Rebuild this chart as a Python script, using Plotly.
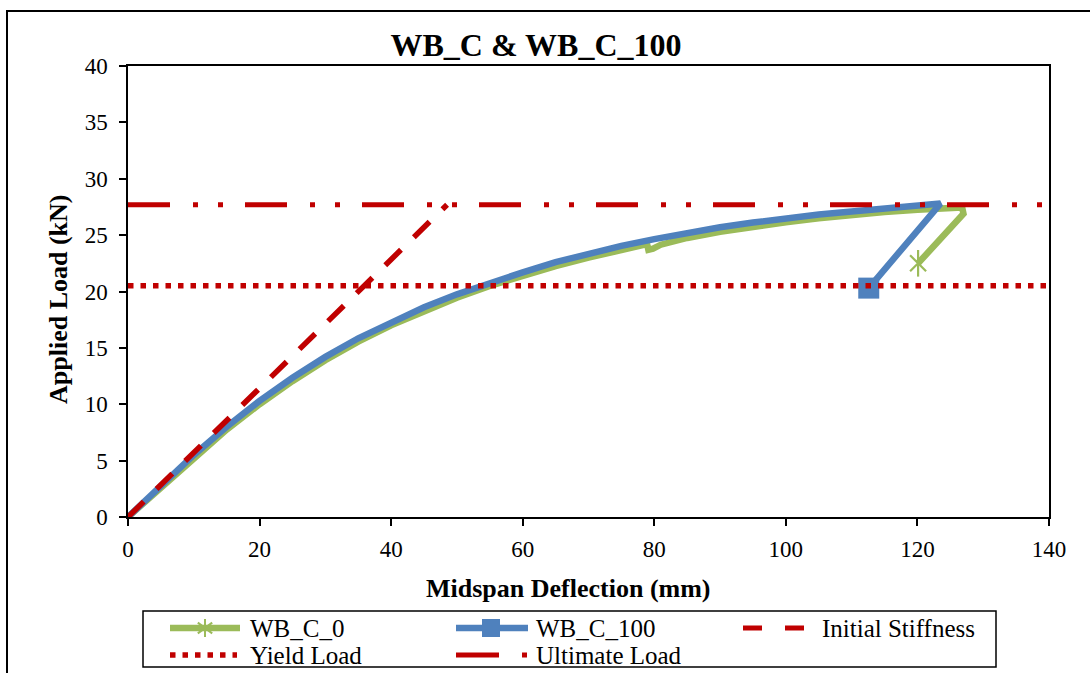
import plotly.graph_objects as go

# Load–deflection data (mm, kN)
wb_c_0_defl = [0, 5, 10, 15, 20, 25, 30, 35, 40, 45, 50, 55, 60, 65, 70, 75,
               78.9, 79.1, 79.8, 81, 83, 85, 90, 95, 100, 105, 110, 115, 120,
               126.8, 127.0, 120.1]
wb_c_0_load = [0, 2.6, 5.25, 7.75, 10.0, 12.05, 13.9, 15.55, 17.0, 18.3, 19.45,
               20.5, 21.4, 22.25, 23.0, 23.7, 24.2, 23.7, 23.8, 24.15, 24.45,
               24.75, 25.3, 25.75, 26.15, 26.5, 26.8, 27.05, 27.25, 27.45,
               26.9, 22.5]

wb_c_100_defl = [0, 5, 10, 15, 20, 25, 30, 35, 40, 45, 50, 55, 60, 65, 70, 75,
                 80, 85, 90, 95, 100, 105, 110, 115, 120, 123.5, 112.6]
wb_c_100_load = [0, 2.8, 5.5, 8.0, 10.3, 12.35, 14.2, 15.85, 17.3, 18.6, 19.75,
                 20.8, 21.7, 22.6, 23.35, 24.05, 24.65, 25.2, 25.7, 26.12,
                 26.5, 26.82, 27.1, 27.35, 27.58, 27.8, 20.3]

stiff_defl = [0, 48.5]
stiff_load = [0, 27.7]

limit_defl = [0, 140]
yield_load = [20.5, 20.5]
ultimate_load = [27.7, 27.7]

x_ticks = [0, 20, 40, 60, 80, 100, 120, 140]
y_ticks = [0, 5, 10, 15, 20, 25, 30, 35, 40]

series_names = ["WB_C_0", "WB_C_100", "Initial Stiffness", "Yield Load",
                "Ultimate Load"]

GREEN = "#9BBB59"
BLUE = "#4F81BD"
RED = "#C00000"
FONT = "Liberation Serif, Times New Roman, serif"

STIFF_DASH = "22px,18px"
YIELD_DASH = "5.5px,7px"
ULT_DASH = "42px,23px,5px,20px,5px,22px"

# Plot-area geometry in pixels (used to place the frame and legend)
W, H = 1090, 673
L, R, T, B = 128, 41, 66, 156
PW, PH = W - L - R, H - T - B


def px(x):
    return (x - L) / PW


def py(y):
    return (H - B - y) / PH


fig = go.Figure()

# Test curves
fig.add_trace(go.Scatter(x=wb_c_0_defl, y=wb_c_0_load, mode="lines",
                         line=dict(color=GREEN, width=6.5), hoverinfo="skip"))
fig.add_trace(go.Scatter(x=wb_c_100_defl, y=wb_c_100_load, mode="lines",
                         line=dict(color=BLUE, width=6.5), hoverinfo="skip"))

# End-point markers
for sym, size in (("x-thin-open", 16), ("line-ns-open", 19)):
    fig.add_trace(go.Scatter(x=wb_c_0_defl[-1:], y=wb_c_0_load[-1:],
                             mode="markers",
                             marker=dict(symbol=sym, size=size, color=GREEN,
                                         line=dict(color=GREEN, width=2.2))))
fig.add_trace(go.Scatter(x=wb_c_100_defl[-1:], y=wb_c_100_load[-1:],
                         mode="markers",
                         marker=dict(symbol="square", size=21, color=BLUE)))

# Reference lines
fig.add_trace(go.Scatter(x=stiff_defl, y=stiff_load, mode="lines",
                         line=dict(color=RED, width=5.5, dash=STIFF_DASH)))
fig.add_trace(go.Scatter(x=limit_defl, y=yield_load, mode="lines",
                         line=dict(color=RED, width=5.5, dash=YIELD_DASH)))
fig.add_trace(go.Scatter(x=limit_defl, y=ultimate_load, mode="lines",
                         line=dict(color=RED, width=5, dash=ULT_DASH)))

axis_common = dict(showgrid=False, zeroline=False, showline=True,
                   linecolor="black", linewidth=1.5, mirror=True,
                   ticks="outside", ticklen=7, tickwidth=1.5, tickcolor="black",
                   tickfont=dict(family=FONT, size=23, color="black"))

fig.update_xaxes(range=[0, 140], tickvals=x_ticks, ticklabelstandoff=4,
                 **axis_common)
fig.update_yaxes(range=[0, 40], tickvals=y_ticks, ticklabelstandoff=7,
                 **axis_common)

# Legend drawn as a framed box of line samples and labels
shapes = [
    # Outer chart frame
    dict(type="rect", xref="paper", yref="paper",
         x0=px(7), x1=px(1100), y0=py(690), y1=py(11),
         line=dict(color="black", width=2), fillcolor="rgba(0,0,0,0)",
         layer="below"),
    # Legend frame
    dict(type="rect", xref="paper", yref="paper",
         x0=px(143), x1=px(996), y0=py(667), y1=py(611),
         line=dict(color="black", width=1.5), fillcolor="white"),
]

row1, row2 = 628, 655
samples = [
    (170, 240, row1, GREEN, 6.5, "solid"),
    (456, 528, row1, BLUE, 6.5, "solid"),
    (743, 805, row1, RED, 5, "19px,23px"),
    (170, 237, row2, RED, 5.5, YIELD_DASH),
    (456, 528, row2, RED, 5, "43px,23px,5px,40px"),
]
for x0, x1, yy, col, wd, dash in samples:
    shapes.append(dict(type="line", xref="paper", yref="paper",
                       x0=px(x0), x1=px(x1), y0=py(yy), y1=py(yy),
                       line=dict(color=col, width=wd, dash=dash)))

# Legend marker: square for WB_C_100
shapes.append(dict(type="rect", xref="paper", yref="paper",
                   x0=px(482), x1=px(500), y0=py(row1 + 9), y1=py(row1 - 9),
                   line=dict(width=0), fillcolor=BLUE))
# Legend marker: star for WB_C_0
sx, sr = 205, 9
for dx, dy in ((0, sr), (sr * 0.8, sr * 0.6), (-sr * 0.8, sr * 0.6)):
    shapes.append(dict(type="line", xref="paper", yref="paper",
                       x0=px(sx - dx), x1=px(sx + dx),
                       y0=py(row1 + dy), y1=py(row1 - dy),
                       line=dict(color=GREEN, width=2)))

label_pos = [(248, row1), (534, row1), (820, row1), (248, row2), (534, row2)]
annotations = [
    dict(text=name, xref="paper", yref="paper", x=px(lx), y=py(ly),
         xanchor="left", yanchor="middle", showarrow=False,
         font=dict(family=FONT, size=25, color="black"))
    for name, (lx, ly) in zip(series_names, label_pos)
]

annotations += [
    dict(text="<b>Midspan Deflection (mm)</b>", xref="paper", yref="paper",
         x=px(568), y=py(588), showarrow=False,
         xanchor="center", yanchor="middle",
         font=dict(family=FONT, size=26, color="black")),
    dict(text="<b>Applied Load (kN)</b>", xref="paper", yref="paper",
         x=px(58), y=py(299), showarrow=False,
         textangle=-90, xanchor="center", yanchor="middle",
         font=dict(family=FONT, size=26, color="black")),
]

fig.update_layout(
    width=W, height=H,
    margin=dict(l=L, r=R, t=T, b=B),
    paper_bgcolor="white", plot_bgcolor="white",
    showlegend=False,
    title=dict(text="<b>WB_C &amp; WB_C_100</b>", x=536 / W, xanchor="center",
               y=1 - 45 / H, yanchor="middle", yref="container",
               font=dict(family=FONT, size=32, color="black")),
    annotations=annotations,
    shapes=shapes,
)

fig.write_html("out.html")
